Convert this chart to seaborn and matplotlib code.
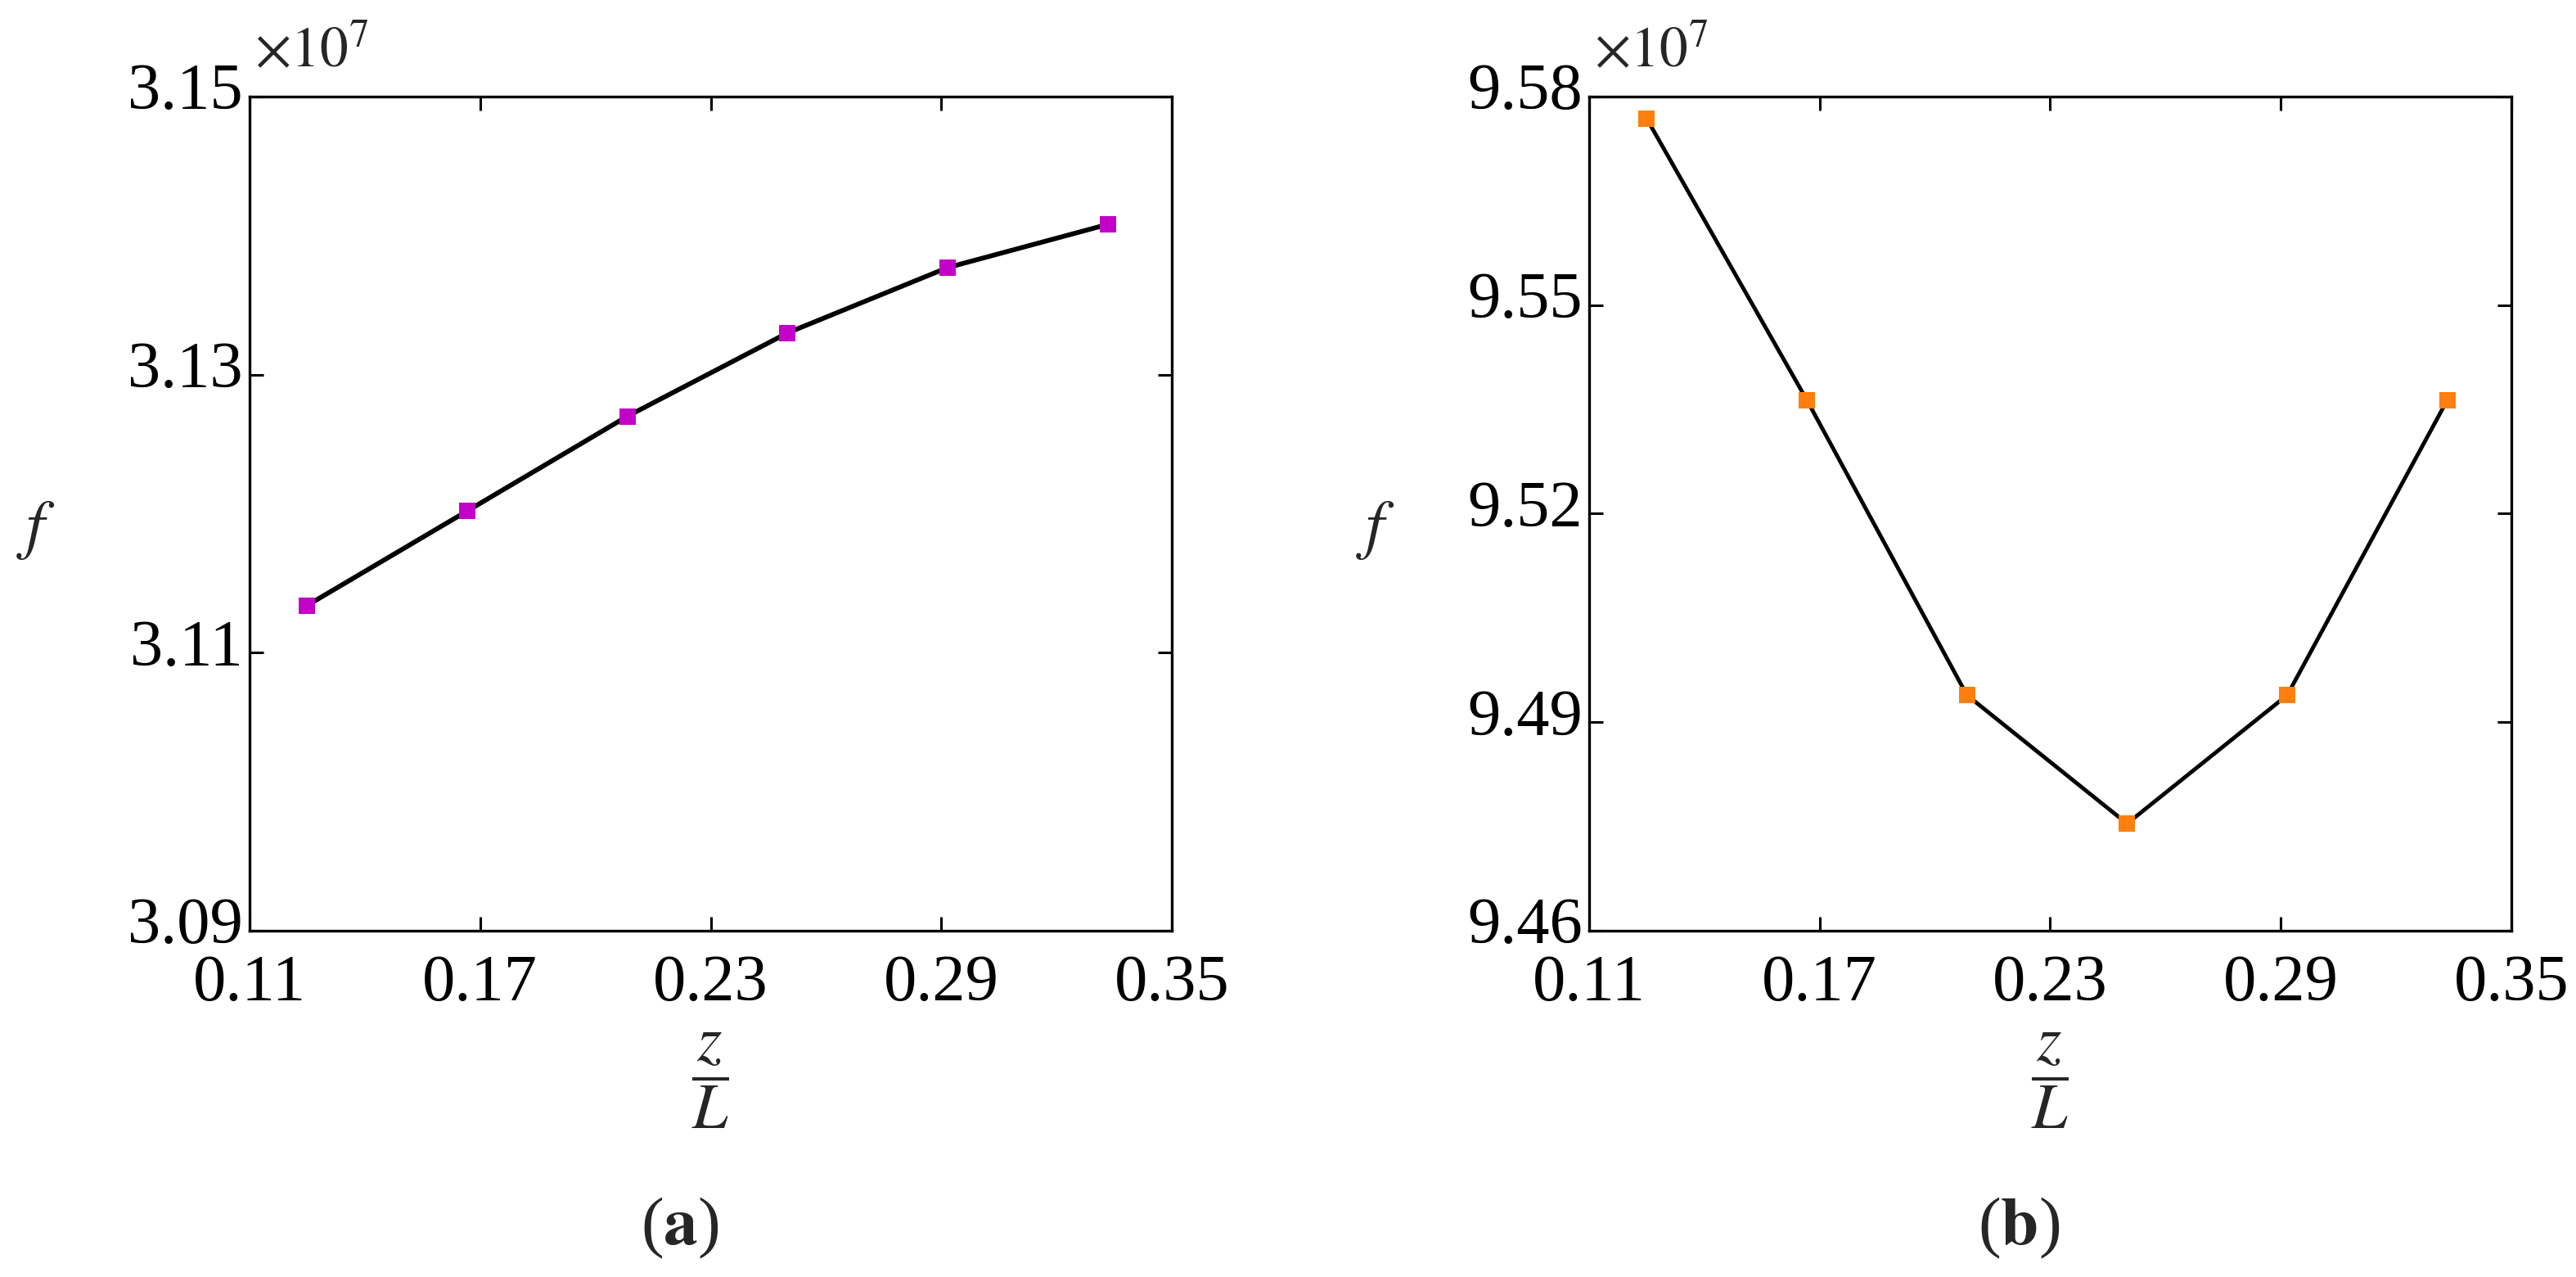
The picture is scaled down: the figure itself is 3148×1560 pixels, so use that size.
import numpy as np
import pandas as pd
import matplotlib
matplotlib.use("Agg")
import matplotlib.pyplot as plt
import seaborn as sns
from matplotlib.ticker import FuncFormatter
from matplotlib.transforms import ScaledTranslation

# data (z/L, natural frequency f)
z_over_L = [0.125, 0.1667, 0.2083, 0.25, 0.2917, 0.3333]
f_a = [3.1134e7, 3.1202e7, 3.1270e7, 3.1330e7, 3.1377e7, 3.1408e7]
f_b = [9.5768e7, 9.5363e7, 9.4939e7, 9.4754e7, 9.4939e7, 9.5363e7]

xticks = [0.11, 0.17, 0.23, 0.29, 0.35]
yticks_a = [3.09e7, 3.11e7, 3.13e7, 3.15e7]
yticks_b = [9.46e7, 9.49e7, 9.52e7, 9.55e7, 9.58e7]

sns.set_style("ticks")
plt.rcParams["font.family"] = ["Liberation Serif", "DejaVu Serif"]
plt.rcParams["mathtext.fontset"] = "stix"
plt.rcParams["axes.linewidth"] = 2.4
plt.rcParams["axes.edgecolor"] = "black"

fig = plt.figure(figsize=(31.48, 15.6), dpi=100)
ax_a = fig.add_axes([0.0969, 0.2712, 0.358, 0.6532])
ax_b = fig.add_axes([0.6169, 0.2712, 0.358, 0.6532])

panels = [
    (ax_a, f_a, yticks_a, "#C200C8", 4.2, "a", 0.264),
    (ax_b, f_b, yticks_b, "#FF7F0E", 3.5, "b", 0.7837),
]

lift = ScaledTranslation(0, 9 / 72, fig.dpi_scale_trans)

for ax, f, yt, col, lw, tag, xlab in panels:
    df = pd.DataFrame({"zL": z_over_L, "f": f})
    sns.lineplot(data=df, x="zL", y="f", ax=ax, color="black", linewidth=lw,
                 marker="s", markersize=14.5, markerfacecolor=col,
                 markeredgecolor=col, markeredgewidth=0)
    ax.set_xlim(xticks[0], xticks[-1])
    ax.set_ylim(yt[0], yt[-1])
    ax.set_xticks(xticks)
    ax.set_yticks(yt)
    ax.xaxis.set_major_formatter(FuncFormatter(lambda v, p: f"{v:.2f}"))
    ax.yaxis.set_major_formatter(FuncFormatter(lambda v, p: f"{v / 1e7:.2f}"))
    ax.tick_params(direction="in", length=12, width=2.2, top=True, right=True,
                   labelsize=58, colors="black")
    ax.tick_params(axis="x", pad=21)
    ax.tick_params(axis="y", pad=6)
    for lab in ax.get_yticklabels():
        lab.set_transform(lab.get_transform() + lift)
    ax.set_xlabel(r"$\dfrac{z}{L}$", fontsize=56, va="center")
    ax.xaxis.set_label_coords(0.5, -0.18)
    ax.set_ylabel(r"$f$", fontsize=58, rotation=0, va="center", ha="center")
    ax.yaxis.set_label_coords(-0.232, 0.48)
    ax.text(0.005, 1.02, r"$\times10^{7}$", transform=ax.transAxes,
            fontsize=50, ha="left", va="bottom")
    fig.text(xlab, 0.0385, r"($\mathbf{" + tag + r"}$)", fontsize=60,
             ha="center", va="center")

fig.savefig("out.png", dpi=100, facecolor="white")
